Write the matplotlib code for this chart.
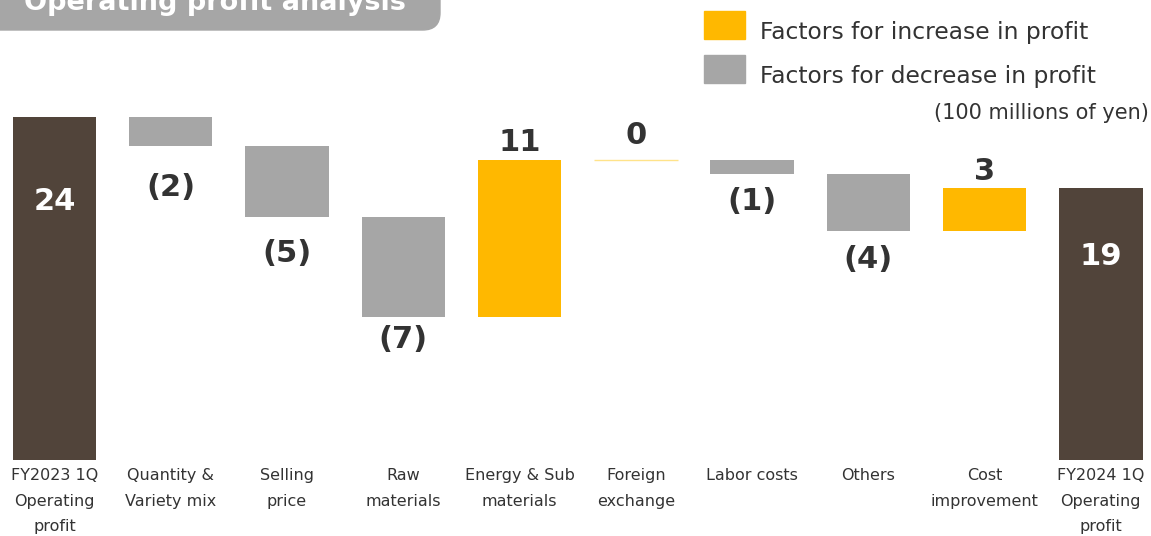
import numpy as np
import matplotlib.pyplot as plt
from matplotlib.patches import FancyBboxPatch, Rectangle

# Waterfall data (100 millions of yen)
categories = ['FY2023 1Q\nOperating\nprofit', 'Quantity &\nVariety mix', 'Selling\nprice',
              'Raw\nmaterials', 'Energy & Sub\nmaterials', 'Foreign\nexchange',
              'Labor costs', 'Others', 'Cost\nimprovement', 'FY2024 1Q\nOperating\nprofit']
start_value = 24
changes = [-2, -5, -7, 11, 0, -1, -4, 3]
end_value = 19

# label offsets below negative bars (points), purely cosmetic
neg_offsets = {1: 30, 2: 26, 3: 16, 6: 20, 7: 20}

C_TOTAL = '#51443A'
C_UP = '#FFB800'
C_DOWN = '#A6A6A6'
C_ZERO = '#FFE38A'
C_TEXT = '#333333'

fig = plt.figure(figsize=(11.51, 5.36), dpi=100)
ax = fig.add_axes([0, 76 / 536, 1, 460 / 536])

x = np.arange(len(categories))
width = 0.718
step = 116.26   # pixel distance between bars
x0 = 54.5       # pixel centre of the first bar

# totals
ax.bar(x[0], start_value, width, color=C_TOTAL)
ax.bar(x[-1], end_value, width, color=C_TOTAL)
ax.text(x[0], start_value * 0.755, f'{start_value}', ha='center', va='center',
        color='white', fontsize=22, fontweight='bold')
ax.text(x[-1], end_value * 0.75, f'{end_value}', ha='center', va='center',
        color='white', fontsize=22, fontweight='bold')

level = start_value
for i, d in enumerate(changes, start=1):
    if d == 0:
        ax.hlines(level, x[i] - width / 2, x[i] + width / 2, color=C_ZERO, lw=1)
        ax.annotate('0', (x[i], level), xytext=(0, 7), textcoords='offset points',
                    ha='center', va='bottom', fontsize=22, fontweight='bold', color=C_TEXT)
        continue
    bottom = min(level, level + d)
    ax.bar(x[i], abs(d), width, bottom=bottom, color=C_UP if d > 0 else C_DOWN)
    if d > 0:
        ax.annotate(f'{d}', (x[i], level + d), xytext=(0, 2), textcoords='offset points',
                    ha='center', va='bottom', fontsize=22, fontweight='bold', color=C_TEXT)
    else:
        ax.annotate(f'({-d})', (x[i], level + d), xytext=(0, -neg_offsets.get(i, 20)),
                    textcoords='offset points', ha='center', va='center',
                    fontsize=22, fontweight='bold', color=C_TEXT)
    level += d

ax.set_xlim(-x0 / step, (1151 - x0) / step)
ax.set_ylim(0, 460 / 14.29)
ax.axis('off')

for xi, lab in zip(x, categories):
    ax.annotate(lab, (xi, 0), xytext=(0, -6), textcoords='offset points',
                ha='center', va='top', fontsize=11.5, color=C_TEXT, linespacing=1.85)

# title box (cut at top edge, as in the original slide)
fig.patches.append(FancyBboxPatch((-20 / 1151, 1 - 30 / 536), 460 / 1151, 60 / 536,
                                  boxstyle='round,pad=0,rounding_size=0.015',
                                  transform=fig.transFigure, color=C_DOWN,
                                  mutation_aspect=1151 / 536))
fig.text(215 / 1151, 1 - 3 / 536, 'Operating profit analysis', ha='center', va='center',
         color='white', fontsize=19.5, fontweight='bold')

# legend
for y0, c, t in [(11, C_UP, 'Factors for increase in profit'),
                  (55, C_DOWN, 'Factors for decrease in profit')]:
    fig.patches.append(Rectangle((704 / 1151, 1 - (y0 + 28) / 536), 41 / 1151, 28 / 536,
                                 transform=fig.transFigure, color=c))
    fig.text(760 / 1151, 1 - (y0 + 28) / 536, t, ha='left', va='baseline',
             fontsize=16.8, color=C_TEXT)

fig.text(1149 / 1151, 1 - 113 / 536, '(100 millions of yen)', ha='right', va='center',
         fontsize=15, color=C_TEXT)

fig.savefig('out.png', dpi=100)
